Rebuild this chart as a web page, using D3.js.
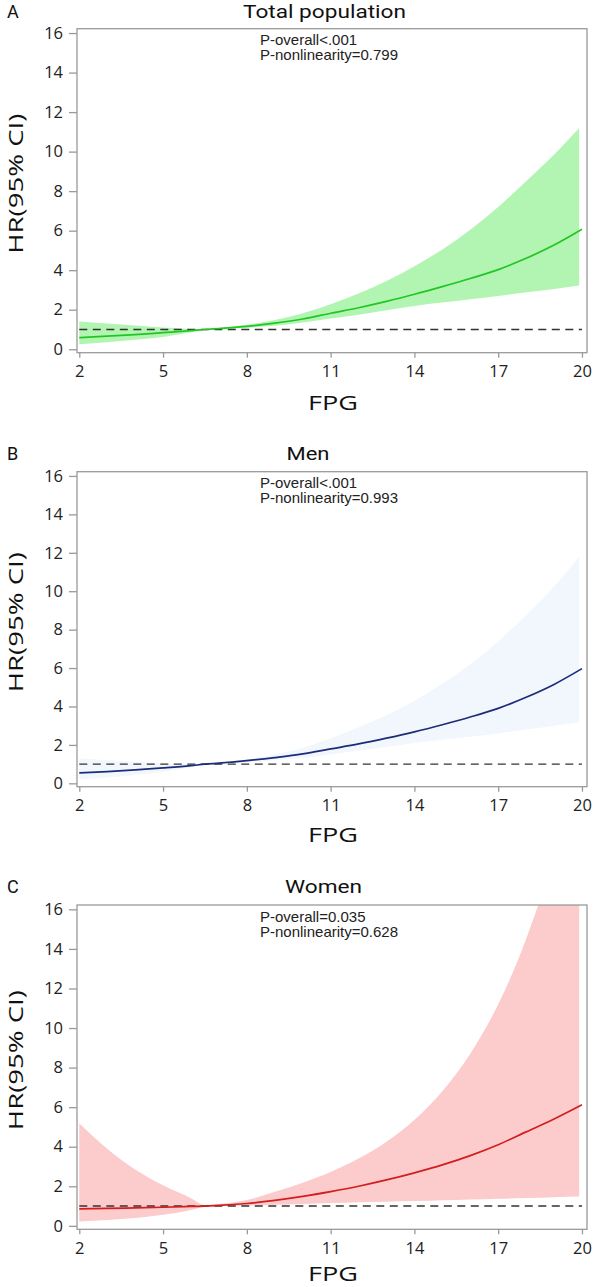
<!DOCTYPE html>
<html><head><meta charset="utf-8">
<script src="https://cdn.jsdelivr.net/npm/d3@7"></script>
<style>body{margin:0;background:#fff}svg{display:block}</style>
</head><body>
<svg id="c" width="596" height="1287"></svg>
<script>
// ---- data ----
const fpg = [2,3,4,5,6,6.5,7,8,9,10,11,12,13,14,15,16,17,18,19,20];
const xTicks = [2,5,8,11,14,17,20];
const yTicks = [0,2,4,6,8,10,12,14,16];

const hrTotal = [0.59,0.66,0.74,0.84,0.94,1.0,1.05,1.16,1.32,1.53,1.82,2.10,2.42,2.78,3.17,3.58,4.03,4.60,5.27,6.07];
const upTotal = [1.40,1.30,1.20,1.10,1.03,1.0,1.08,1.24,1.48,1.82,2.28,2.82,3.45,4.20,5.05,6.05,7.20,8.50,9.85,11.2];
const loTotal = [0.25,0.36,0.48,0.62,0.86,0.99,1.02,1.09,1.19,1.35,1.56,1.75,1.97,2.19,2.36,2.53,2.70,2.88,3.05,3.22];

const hrMen = [0.54,0.61,0.70,0.80,0.92,1.0,1.05,1.18,1.34,1.53,1.79,2.05,2.35,2.68,3.05,3.45,3.90,4.48,5.15,5.97];
const upMen = [1.30,1.20,1.12,1.05,1.01,1.0,1.08,1.25,1.50,1.85,2.35,2.92,3.55,4.30,5.18,6.20,7.40,8.75,10.25,11.8];
const loMen = [0.22,0.31,0.43,0.60,0.84,0.99,1.02,1.10,1.20,1.33,1.52,1.70,1.90,2.10,2.27,2.43,2.60,2.80,3.00,3.18];

const hrWomen = [0.86,0.88,0.91,0.94,0.98,1.0,1.03,1.13,1.29,1.49,1.73,2.00,2.32,2.68,3.08,3.55,4.10,4.75,5.40,6.12];
const upWomen = [5.19,3.90,2.85,2.05,1.40,1.05,1.10,1.30,1.72,2.18,2.72,3.40,4.25,5.35,6.80,8.70,11.2,14.5,18.9,24.7];
const loWomen = [0.22,0.30,0.40,0.56,0.80,0.97,1.00,1.03,1.07,1.11,1.15,1.19,1.22,1.25,1.29,1.33,1.37,1.41,1.45,1.48];

const bandEnd = 19.9;

const panels = [
  {letter:"A", title:"Total population", p1:"P-overall<.001", p2:"P-nonlinearity=0.799",
   hr:hrTotal, up:upTotal, lo:loTotal, band:"#b2f5b2", line:"#22c622",
   top:28.7, bottom:352.7, titleX:324.5, titleLen:163, fpgBase:410},
  {letter:"B", title:"Men", p1:"P-overall<.001", p2:"P-nonlinearity=0.993",
   hr:hrMen, up:upMen, lo:loMen, band:"#f1f7fd", line:"#1c2c78",
   top:471.7, bottom:786.7, titleX:308, titleLen:43, fpgBase:842},
  {letter:"C", title:"Women", p1:"P-overall=0.035", p2:"P-nonlinearity=0.628",
   hr:hrWomen, up:upWomen, lo:loWomen, band:"#fccbcb", line:"#d21e1e",
   top:905, bottom:1229.3, titleX:323.5, titleLen:77, fpgBase:1280.8}
];

const svg = d3.select("#c");
const left = 77, right = 587;
const x = d3.scaleLinear().domain([1.918, 20.18]).range([left, right]);
const sans = "'Open Sans', 'Noto Sans', sans-serif";
const tfont = "Roboto, 'Open Sans', sans-serif";
const arial = "'Liberation Sans', Arial, sans-serif";
const gray = "#9a9a9a";

panels.forEach((p, k) => {
  const y = d3.scaleLinear().domain([-0.175, 16.22]).range([p.bottom, p.top]);
  const g = svg.append("g");
  const clipId = "clip" + k;
  svg.append("clipPath").attr("id", clipId).append("rect")
    .attr("x", left).attr("y", p.top).attr("width", right - left).attr("height", p.bottom - p.top);

  const bx = fpg.map((v, i) => i === fpg.length - 1 ? bandEnd : v);
  const bandData = fpg.map((v, i) => ({x: bx[i], lo: p.lo[i], up: p.up[i]}));
  const lineData = fpg.map((v, i) => ({x: v, hr: p.hr[i]}));

  const plot = g.append("g").attr("clip-path", `url(#${clipId})`);
  plot.append("path").datum(bandData)
    .attr("fill", p.band)
    .attr("d", d3.area().x(d => x(d.x)).y0(d => y(d.lo)).y1(d => y(d.up)).curve(d3.curveMonotoneX));

  plot.append("line")
    .attr("x1", x(2)).attr("x2", x(20)).attr("y1", y(1)).attr("y2", y(1))
    .attr("stroke", "#333").attr("stroke-width", 1.4).attr("stroke-dasharray", "8,5.5");

  plot.append("path").datum(lineData)
    .attr("fill", "none").attr("stroke", p.line).attr("stroke-width", 1.7)
    .attr("d", d3.line().x(d => x(d.x)).y(d => y(d.hr)).curve(d3.curveMonotoneX));

  // frame
  g.append("rect").attr("x", left).attr("y", p.top)
    .attr("width", right - left).attr("height", p.bottom - p.top)
    .attr("fill", "none").attr("stroke", gray).attr("stroke-width", 1.3);

  // axes
  const ya = g.append("g").attr("transform", `translate(${left},0)`)
    .call(d3.axisLeft(y).tickValues(yTicks).tickSize(8).tickPadding(6).tickFormat(d3.format("d")));
  const xa = g.append("g").attr("transform", `translate(0,${p.bottom})`)
    .call(d3.axisBottom(x).tickValues(xTicks).tickSize(5).tickPadding(8).tickFormat(d3.format("d")));
  [ya, xa].forEach(a => {
    a.select(".domain").remove();
    a.selectAll(".tick line").attr("stroke", gray).attr("stroke-width", 1.3);
    a.selectAll(".tick text").attr("fill", "#222").style("font-family", sans).style("font-size", "16.5px");
  });

  // titles & labels
  const ty = Math.max(p.top - 12, 17.5);
  g.append("text").attr("x", 7).attr("y", ty)
    .style("font-family", tfont).style("font-size", "18px").attr("fill", "#111").text(p.letter);
  g.append("text").attr("x", p.titleX).attr("y", ty).attr("text-anchor", "middle")
    .attr("textLength", p.titleLen).attr("lengthAdjust", "spacingAndGlyphs")
    .style("font-family", tfont).style("font-size", "18px").attr("fill", "#111").text(p.title);

  g.append("text").attr("x", 260).attr("y", p.top + 16.5)
    .style("font-family", arial).style("font-size", "15px").attr("fill", "#222").text(p.p1);
  g.append("text").attr("x", 260).attr("y", p.top + 31.5)
    .style("font-family", arial).style("font-size", "15px").attr("fill", "#222").text(p.p2);

  g.append("text").attr("x", 333).attr("y", p.fpgBase).attr("text-anchor", "middle")
    .attr("textLength", 50).attr("lengthAdjust", "spacingAndGlyphs")
    .style("font-family", sans).style("font-size", "20px").attr("fill", "#111").text("FPG");

  const cy = (p.top + p.bottom) / 2 - 7;
  g.append("text").attr("transform", `translate(23,${cy}) rotate(-90)`).attr("text-anchor", "middle")
    .attr("textLength", 140).attr("lengthAdjust", "spacingAndGlyphs")
    .style("font-family", sans).style("font-size", "20px").attr("fill", "#111").text("HR(95% CI)");
});
</script>
</body></html>
